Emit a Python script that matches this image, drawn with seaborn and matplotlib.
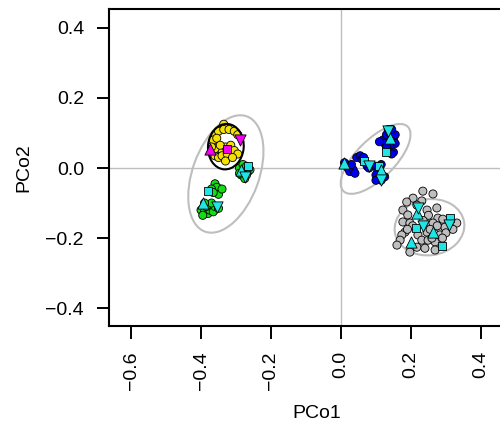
import matplotlib
matplotlib.use("Agg")
import matplotlib.pyplot as plt
from matplotlib.patches import Ellipse
import pandas as pd
import seaborn as sns

# point coordinates (PCo1, PCo2)
yellow_x = [-0.335, -0.36, -0.35, -0.335, -0.32, -0.305, -0.295, -0.365, -0.355,
            -0.37, -0.36, -0.35, -0.34, -0.33, -0.315, -0.305, -0.295, -0.34,
            -0.325, -0.36, -0.345, -0.33, -0.31, -0.37]
yellow_y = [0.125, 0.095, 0.105, 0.11, 0.11, 0.105, 0.095, 0.08, 0.085,
            0.045, 0.035, 0.03, 0.05, 0.06, 0.065, 0.05, 0.04, 0.035,
            0.04, 0.055, 0.065, 0.02, 0.03, 0.06]

green_x = [-0.29, -0.28, -0.27, -0.265, -0.26, -0.285, -0.275, -0.29, -0.27, -0.265,
           -0.36, -0.345, -0.355, -0.37, -0.35, -0.365, -0.34,
           -0.4, -0.39, -0.38, -0.395, -0.375, -0.385, -0.365, -0.36, -0.35, -0.37, -0.39]
green_y = [0.0, 0.01, 0.005, -0.01, -0.005, -0.02, -0.03, -0.015, -0.02, 0.0,
           -0.045, -0.06, -0.055, -0.06, -0.075, -0.07, -0.06,
           -0.12, -0.125, -0.13, -0.135, -0.12, -0.11, -0.125, -0.11, -0.115, -0.1, -0.1]

blue_x = [0.015, 0.02, 0.025, 0.035, 0.03, 0.04, 0.01, 0.045, 0.055, 0.06, 0.065,
          0.07, 0.075, 0.08, 0.1, 0.105, 0.1, 0.11, 0.115, 0.125, 0.1, 0.115,
          0.12, 0.125, 0.13, 0.14, 0.15, 0.155, 0.14, 0.13, 0.15, 0.145, 0.155,
          0.135, 0.145, 0.11]
blue_y = [0.01, 0.0, -0.01, -0.005, 0.01, -0.015, 0.015, 0.03, 0.035, 0.025, 0.03,
          0.015, 0.005, 0.0, 0.005, -0.01, -0.02, -0.03, -0.035, -0.025, -0.035, 0.01,
          0.08, 0.07, 0.095, 0.1, 0.085, 0.07, 0.06, 0.06, 0.045, 0.04, 0.095,
          0.11, 0.11, 0.075]

grey_x = [0.234, 0.263, 0.206, 0.188, 0.231, 0.274, 0.246, 0.177, 0.191, 0.277,
          0.291, 0.249, 0.177, 0.197, 0.263, 0.331, 0.283, 0.297, 0.183, 0.246,
          0.174, 0.22, 0.283, 0.169, 0.231, 0.249, 0.269, 0.16, 0.217, 0.24,
          0.269, 0.197, 0.217, 0.25, 0.26, 0.3, 0.32, 0.235, 0.205, 0.19,
          0.275, 0.29, 0.255]
grey_y = [-0.066, -0.074, -0.086, -0.097, -0.094, -0.114, -0.12, -0.12, -0.134, -0.143,
          -0.146, -0.154, -0.154, -0.157, -0.157, -0.157, -0.171, -0.169, -0.183, -0.183,
          -0.191, -0.191, -0.191, -0.206, -0.206, -0.206, -0.211, -0.22, -0.226, -0.229,
          -0.234, -0.24, -0.106, -0.135, -0.2, -0.185, -0.175, -0.15, -0.165, -0.175,
          -0.165, -0.2, -0.175]

# highlighted samples
square_x = [-0.267, -0.38, 0.065, 0.11, 0.13, 0.311, 0.214, 0.289]
square_y = [0.005, -0.065, 0.02, 0.005, 0.045, -0.143, -0.171, -0.223]
up_x = [-0.285, -0.395, 0.01, 0.115, 0.14, 0.217, 0.263, 0.2]
up_y = [-0.005, -0.1, 0.015, -0.005, 0.085, -0.129, -0.183, -0.211]
down_x = [-0.275, -0.355, 0.08, 0.115, 0.135, 0.22, 0.309, 0.234]
down_y = [-0.025, -0.11, 0.005, -0.035, 0.105, -0.114, -0.163, -0.166]

mag_square = (-0.325, 0.055)
mag_up = (-0.375, 0.055)
mag_down = (-0.29, 0.08)

# dispersion ellipses: centre x, centre y, width, height, angle
grey_ellipses = [(-0.329, -0.017, 0.35, 0.19, 70),
                 (0.099, 0.026, 0.26, 0.11, 45),
                 (0.253, -0.169, 0.2, 0.16, 8)]
black_ellipse = (-0.329, 0.061, 0.13, 0.102, 85)

colors = {"yellow": "#f5e100", "green": "#14dc14", "blue": "#0000f0", "grey": "#bebebe"}
cyan = "#1ee6e6"
magenta = "#f000f0"

pts = pd.concat([
    pd.DataFrame({"x": grey_x, "y": grey_y, "grp": "grey"}),
    pd.DataFrame({"x": blue_x, "y": blue_y, "grp": "blue"}),
    pd.DataFrame({"x": green_x, "y": green_y, "grp": "green"}),
    pd.DataFrame({"x": yellow_x, "y": yellow_y, "grp": "yellow"}),
], ignore_index=True)

sns.set_style("white")
plt.rcParams["font.family"] = ["Liberation Sans", "DejaVu Sans"]

fig = plt.figure(figsize=(5, 4.28), dpi=100)
ax = fig.add_axes([0.218, 0.2383, 0.832, 0.7407])

ax.axhline(0, color="#bebebe", lw=1, zorder=0)
ax.axvline(0, color="#bebebe", lw=1, zorder=0)

for cx, cy, w, h, a in grey_ellipses:
    ax.add_patch(Ellipse((cx, cy), w, h, angle=a, fill=False, ec="#bebebe", lw=1.5, zorder=1))

sns.scatterplot(data=pts, x="x", y="y", hue="grp", palette=colors, s=34,
                edgecolor="black", linewidth=0.6, legend=False, ax=ax, zorder=2)

cx, cy, w, h, a = black_ellipse
ax.add_patch(Ellipse((cx, cy), w, h, angle=a, fill=False, ec="black", lw=1.5, zorder=3))

mk = dict(edgecolor="black", linewidth=0.6, ax=ax, zorder=4)
sns.scatterplot(x=square_x, y=square_y, marker="s", s=40, color=cyan, **mk)
sns.scatterplot(x=up_x, y=up_y, marker="^", s=65, color=cyan, **mk)
sns.scatterplot(x=down_x, y=down_y, marker="v", s=65, color=cyan, **mk)
sns.scatterplot(x=[mag_square[0]], y=[mag_square[1]], marker="s", s=40, color=magenta, **mk)
sns.scatterplot(x=[mag_up[0]], y=[mag_up[1]], marker="^", s=65, color=magenta, **mk)
sns.scatterplot(x=[mag_down[0]], y=[mag_down[1]], marker="v", s=65, color=magenta, **mk)

ax.set_xlim(-0.663, 0.526)
ax.set_ylim(-0.451, 0.454)
ax.set_xticks([-0.6, -0.4, -0.2, 0.0, 0.2, 0.4])
ax.set_yticks([-0.4, -0.2, 0.0, 0.2, 0.4])
ax.set_xticklabels(["\u22120.6", "\u22120.4", "\u22120.2", "0.0", "0.2", "0.4"], rotation=90)
ax.set_yticklabels(["\u22120.4", "\u22120.2", "0.0", "0.2", "0.4"])
ax.tick_params(direction="out", length=9, width=1.4, labelsize=14, color="black",
               labelcolor="black", left=True, bottom=True, pad=9)
for sp in ax.spines.values():
    sp.set_color("black")
    sp.set_linewidth(1.5)
ax.set_xlabel("PCo1", fontsize=14, labelpad=11, color="black")
ax.set_ylabel("PCo2", fontsize=14, labelpad=9, color="black")

fig.savefig("out.png", dpi=100)
